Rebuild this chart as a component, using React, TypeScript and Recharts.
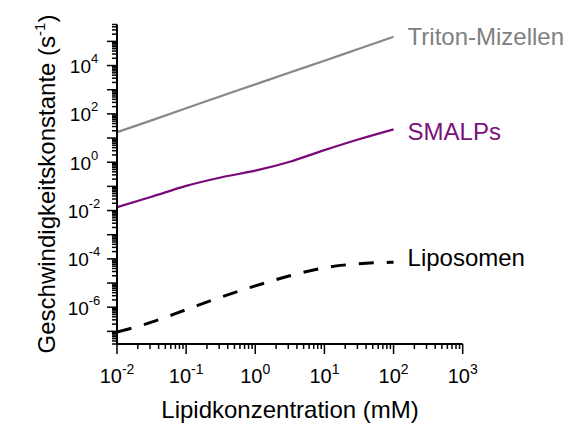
import { LineChart, Line, XAxis, YAxis, LabelList } from "recharts";

// lipid concentration (mM), half-decade steps
const CONC = [0.01, 0.0316, 0.1, 0.316, 1, 3.16, 10, 31.6, 100];
// rate constants (s^-1)
const TRITON = [17.4, 54, 170, 540, 1660, 5200, 15800, 50000, 155000];
const SMALPS = [0.0138, 0.037, 0.105, 0.234, 0.447, 1.05, 3.16, 8.9, 22.9];
const LIPOSOMEN = [9.3e-8, 2.4e-7, 7.9e-7, 2.6e-6, 7.6e-6, 2.0e-5, 4.3e-5, 6.3e-5, 7.2e-5];

const X_DECADES = [-2, -1, 0, 1, 2, 3];
const Y_DECADES = [-8, -7, -6, -5, -4, -3, -2, -1, 0, 1, 2, 3, 4, 5];
const Y_LABELED = [-6, -4, -2, 0, 2, 4];
const X_DOMAIN = [0.01, 1000];
const Y_DOMAIN = [3e-8, 5e5];

const FONT = "'Liberation Sans', Arial, sans-serif";

const data = CONC.map((c, i) => ({
  conc: c,
  triton: TRITON[i],
  smalps: SMALPS[i],
  lipo: LIPOSOMEN[i],
}));

function logTicks(decades: number[], [lo, hi]: number[]) {
  const out: number[] = [];
  decades.forEach((d) => {
    for (let m = 1; m <= 9; m++) {
      const v = m * Math.pow(10, d);
      if (v >= lo * 0.999 && v <= hi * 1.001) out.push(v);
    }
  });
  return out;
}

const X_TICKS = logTicks(X_DECADES, X_DOMAIN);
const Y_TICKS = logTicks(Y_DECADES, Y_DOMAIN);

function decade(v: number) {
  const l = Math.log10(v);
  const e = Math.round(l);
  return { e, major: Math.abs(l - e) < 1e-6 };
}

const expText = (e: number) => (e < 0 ? "-" + Math.abs(e) : String(e));

function XTick({ x, y, payload }: any) {
  const { e, major } = decade(payload.value);
  return (
    <g>
      <line x1={x} x2={x} y1={y} y2={y + (major ? 10 : 5)} stroke="#000" strokeWidth={1.5} />
      {major && (
        <text x={x} y={y + 39} textAnchor="middle" fontSize={20} fontFamily={FONT} fill="#000">
          10
          <tspan dy={-9} fontSize={14}>
            {expText(e)}
          </tspan>
        </text>
      )}
    </g>
  );
}

function YTick({ x, y, payload }: any) {
  const { e, major } = decade(payload.value);
  return (
    <g>
      <line x1={x} x2={x - (major ? 10 : 5)} y1={y} y2={y} stroke="#000" strokeWidth={1.5} />
      {major && Y_LABELED.includes(e) && (
        <text x={x - 33} y={y + 7.5} textAnchor="middle" fontSize={19} fontFamily={FONT} fill="#000">
          10
          <tspan dy={-10} fontSize={13}>
            {expText(e)}
          </tspan>
        </text>
      )}
    </g>
  );
}

const endLabel = (text: string, color: string, dy: number) => (props: any) => {
  if (props.index !== CONC.length - 1) return null;
  return (
    <text x={props.x + 14} y={props.y + dy} fontSize={24} fontFamily={FONT} fill={color}>
      {text}
    </text>
  );
};

const xTitle = () => (
  <text x={290} y={418} textAnchor="middle" fontSize={24} fontFamily={FONT} fill="#000">
    Lipidkonzentration (mM)
  </text>
);

const yTitle = () => (
  <text
    x={55}
    y={184}
    transform="rotate(-90, 55, 184)"
    textAnchor="middle"
    fontSize={24}
    fontFamily={FONT}
    fill="#000"
  >
    Geschwindigkeitskonstante (s
    <tspan dy={-10} fontSize={15}>-1</tspan>
    <tspan dy={10}>)</tspan>
  </text>
);

export default function App() {
  return (
    <div style={{ position: "absolute", left: 0, top: 0, width: 580, height: 447, background: "#fff" }}>
      <LineChart
        width={580}
        height={447}
        data={data}
        margin={{ top: 24.5, right: 117.3, bottom: 0, left: 0 }}
      >
        <XAxis
          dataKey="conc"
          type="number"
          scale="log"
          domain={X_DOMAIN}
          ticks={X_TICKS}
          interval={0}
          allowDataOverflow
          height={103}
          tickSize={0}
          tickMargin={0}
          tickLine={false}
          axisLine={{ stroke: "#000", strokeWidth: 2 }}
          tick={XTick}
          label={xTitle}
        />
        <YAxis
          type="number"
          scale="log"
          domain={Y_DOMAIN}
          ticks={Y_TICKS}
          interval={0}
          allowDataOverflow
          width={117}
          tickSize={0}
          tickMargin={0}
          tickLine={false}
          axisLine={{ stroke: "#000", strokeWidth: 2 }}
          tick={YTick}
          label={yTitle}
        />
        <Line
          type="monotone"
          dataKey="triton"
          stroke="#888888"
          strokeWidth={2.2}
          dot={false}
          isAnimationActive={false}
        >
          <LabelList dataKey="triton" content={endLabel("Triton-Mizellen", "#808080", 8.5)} />
        </Line>
        <Line
          type="monotone"
          dataKey="smalps"
          stroke="#7a0a7a"
          strokeWidth={2.2}
          dot={false}
          isAnimationActive={false}
        >
          <LabelList dataKey="smalps" content={endLabel("SMALPs", "#7a107a", 11)} />
        </Line>
        <Line
          type="monotone"
          dataKey="lipo"
          stroke="#000"
          strokeWidth={3}
          strokeDasharray="15 13"
          dot={false}
          isAnimationActive={false}
        >
          <LabelList dataKey="lipo" content={endLabel("Liposomen", "#000", 3.5)} />
        </Line>
      </LineChart>
    </div>
  );
}
